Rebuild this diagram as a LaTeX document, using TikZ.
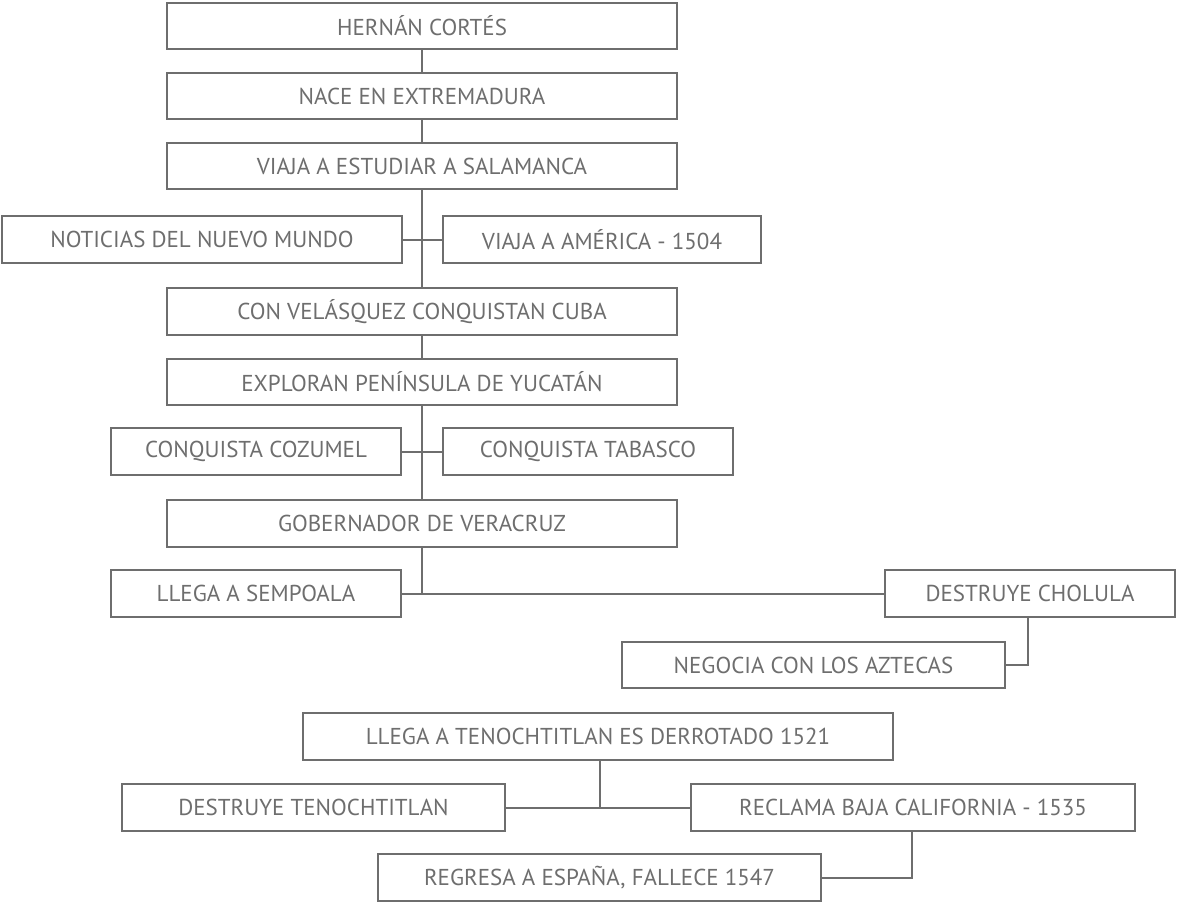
\documentclass[tikz,border=0pt]{standalone}
\usepackage{fontspec}
\setmainfont{PT Sans}
\begin{document}
\begin{tikzpicture}[x=1pt,y=-1pt,
  bx/.style={draw=gc,line width=2pt,fill=white,inner sep=0pt,font=\fontsize{23}{23}\selectfont,text=gc},
  ln/.style={draw=gc,line width=2pt}]
\definecolor{gc}{HTML}{6E6E6E}
\useasboundingbox (0,0) rectangle (1177,905);
\newcommand{\bb}[6]{\node[bx,minimum width=#4-#2,minimum height=#5-#3] (#1) at ({(#2+#4)/2},{(#3+#5)/2}) {#6};}
\coordinate (s0) at (422,26);
\coordinate (s1) at (422,593);
\draw[ln] (s0) -- (s1);
\bb{a}{167}{3}{677}{49}{HERNÁN CORTÉS}
\bb{b}{167}{73}{677}{119}{NACE EN EXTREMADURA}
\bb{c}{167}{143}{677}{189}{VIAJA A ESTUDIAR A SALAMANCA}
\bb{d}{2}{216}{402}{263}{NOTICIAS DEL NUEVO MUNDO}
\bb{e}{443}{216}{761}{263}{VIAJA A AMÉRICA - 1504}
\bb{f}{167}{288}{677}{335}{CON VELÁSQUEZ CONQUISTAN CUBA}
\bb{g}{167}{359}{677}{405}{EXPLORAN PENÍNSULA DE YUCATÁN}
\bb{h}{111}{428}{401}{475}{CONQUISTA COZUMEL}
\bb{i}{443}{428}{733}{475}{CONQUISTA TABASCO}
\bb{j}{167}{500}{677}{547}{GOBERNADOR DE VERACRUZ}
\bb{k}{111}{570}{401}{617}{LLEGA A SEMPOALA}
\bb{l}{885}{570}{1175}{617}{DESTRUYE CHOLULA}
\bb{m}{622}{642}{1005}{688}{NEGOCIA CON LOS AZTECAS}
\bb{n}{303}{713}{893}{760}{LLEGA A TENOCHTITLAN ES DERROTADO 1521}
\bb{o}{122}{784}{505}{831}{DESTRUYE TENOCHTITLAN}
\bb{p}{691}{784}{1135}{831}{RECLAMA BAJA CALIFORNIA - 1535}
\bb{q}{378}{854}{821}{901}{REGRESA A ESPAÑA, FALLECE 1547}
\draw[ln] (d.east) -- (e.west);
\draw[ln] (h.east) -- (i.west);
\draw[ln] (k.east) -- (l.west);
\draw[ln] (l.south -| 1028,0) |- (m.east);
\draw[ln] (n.south -| 600,0) |- (o.east);
\draw[ln] (o.east) -- (p.west);
\draw[ln] (p.south -| 912,0) |- (q.east);
\end{tikzpicture}
\end{document}
